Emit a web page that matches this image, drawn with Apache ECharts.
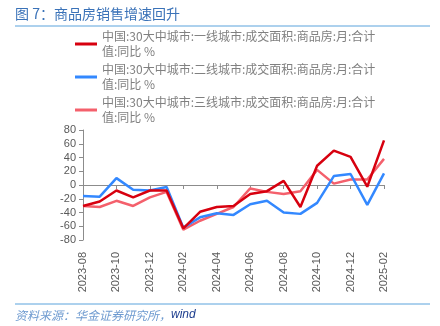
<!DOCTYPE html>
<html><head><meta charset="utf-8">
<script src="https://cdn.jsdelivr.net/npm/echarts@6/dist/echarts.min.js"></script>
<style>html,body{margin:0;padding:0;background:#fff}#c{width:440px;height:326px}</style>
</head><body><div id="c"></div>
<script>
var categories = ['2023-08','2023-09','2023-10','2023-11','2023-12','2024-01','2024-02','2024-03','2024-04','2024-05','2024-06','2024-07','2024-08','2024-09','2024-10','2024-11','2024-12','2025-01','2025-02'];
var tier1 = [-30.5,-24,-8,-18,-8,-8,-63,-39,-32,-30.5,-13,-9,6,-32,28,50,41,-2.5,65];
var tier2 = [-16,-17,10,-7,-8,-3,-62,-47,-41,-43.5,-28,-23,-40,-42,-26,13,16,-29,17];
var tier3 = [-30.5,-32,-23,-30.5,-18,-10,-65,-52,-42,-32,-5,-10,-13,-9,22,2,8,8,38];
var seriesNames = ['中国:30大中城市:一线城市:成交面积:商品房:月:合计值:同比 %','中国:30大中城市:二线城市:成交面积:商品房:月:合计值:同比 %','中国:30大中城市:三线城市:成交面积:商品房:月:合计值:同比 %'];
var colors = ['#d7000f','#3388ff','#f4606c'];
var yTicks = {min:-80, max:80, interval:20};

var chart = echarts.init(document.getElementById('c'), null, {renderer:'canvas'});
function mk(i, data){
  return {name:seriesNames[i], type:'line', data:data, symbol:'none', smooth:false,
    lineStyle:{color:colors[i], width:2.5}, itemStyle:{color:colors[i]}, xAxisIndex:0, z:3+ (2-i)};
}
chart.setOption({
  animation:false,
  graphic:[
    {type:'text', left:15, top:7, style:{text:'图 7：商品房销售增速回升', font:'14px "Noto Sans CJK SC", sans-serif', fill:'#3a72b8'}},
    {type:'line', shape:{x1:15,y1:26,x2:430,y2:26}, style:{stroke:'#5aa3dc', lineWidth:1}},
    {type:'line', shape:{x1:15,y1:304,x2:430,y2:304}, style:{stroke:'#5aa3dc', lineWidth:1}},
    {type:'text', left:15, top:309, style:{text:'{a|资料来源：华金证券研究所，}{b|wind}', rich:{
      a:{fontSize:12, fontStyle:'italic', fontFamily:'"Noto Sans CJK SC", sans-serif', fill:'#6f9bd0', color:'#6f9bd0'},
      b:{fontSize:12, fontStyle:'italic', fontFamily:'Liberation Sans, Arial, sans-serif', fill:'#1f3f8f', color:'#1f3f8f'}}}}
  ],
  legend:{
    orient:'vertical', left:75, top:21.5, padding:0, itemGap:-12,
    itemWidth:22, itemHeight:3, icon:'rect',
    data:seriesNames.map(function(n,i){return {name:n, itemStyle:{color:colors[i]}};}),
    formatter:function(n){ var k=n.indexOf('值:同比'); return n.slice(0,k)+'\n'+n.slice(k); },
    textStyle:{fontSize:12, color:'#808080', lineHeight:15, padding:[15,0,0,0], fontFamily:'"Noto Sans CJK SC", sans-serif'}
  },
  grid:{left:83, right:56, top:130, bottom:86, containLabel:false},
  xAxis:[
    {type:'category', data:categories, boundaryGap:false, position:'bottom',
      axisLine:{show:false, onZero:false}, axisTick:{show:false},
      axisLabel:{interval:1, rotate:90, fontSize:11, color:'#595959', margin:12, fontFamily:'Liberation Sans, Arial, sans-serif'},
      splitLine:{show:false}},
    {type:'category', data:categories, boundaryGap:false, position:'bottom',
      axisLine:{show:true, onZero:true, lineStyle:{color:'#8c8c8c', width:1}},
      axisTick:{show:true, interval:1, length:4, inside:false, lineStyle:{color:'#8c8c8c'}},
      axisLabel:{show:false}, splitLine:{show:false}}
  ],
  yAxis:{type:'value', min:yTicks.min, max:yTicks.max, interval:yTicks.interval,
    axisLine:{show:true, lineStyle:{color:'#8c8c8c'}}, axisTick:{show:true, length:4, lineStyle:{color:'#8c8c8c'}},
    axisLabel:{fontSize:11, color:'#595959', margin:7, fontFamily:'Liberation Sans, Arial, sans-serif'},
    splitLine:{show:false}},
  series:[mk(0,tier1), mk(1,tier2), mk(2,tier3)]
});
</script></body></html>
